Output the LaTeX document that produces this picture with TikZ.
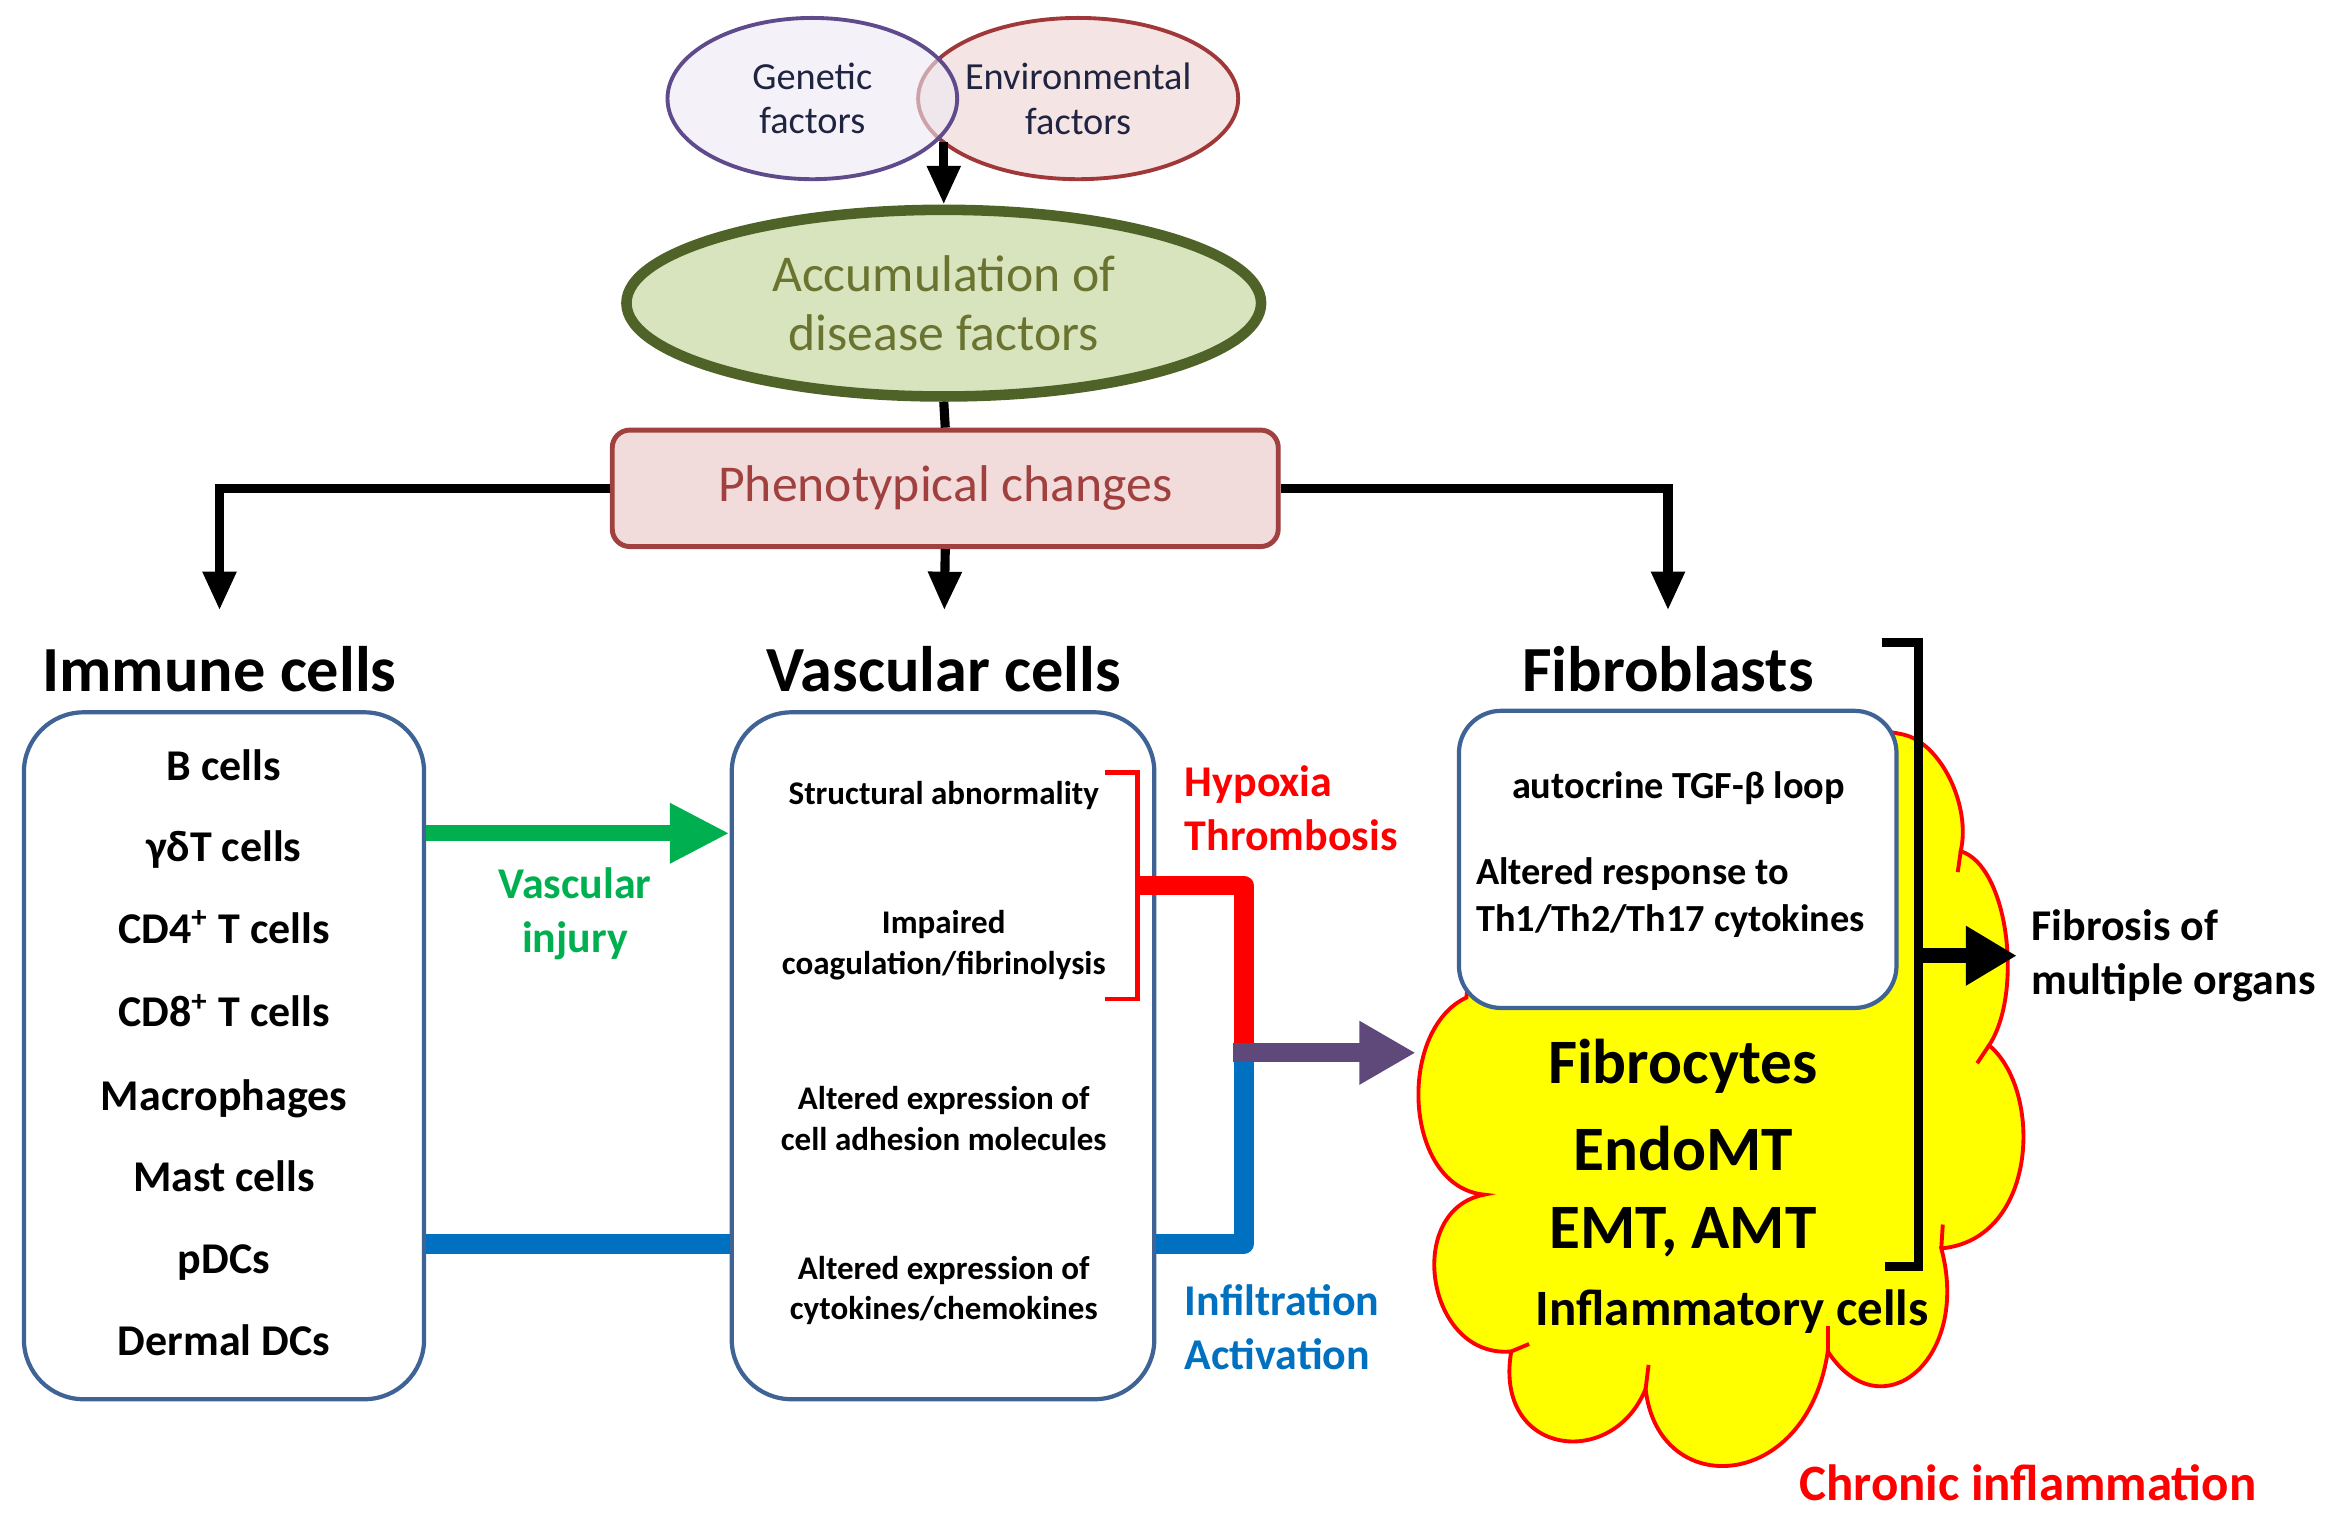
\documentclass[tikz,border=0pt]{standalone}
\usepackage{fontspec}
\setmainfont{Carlito}
\usepackage{tikz}
\usepackage{xcolor}
\usetikzlibrary{shapes.geometric,arrows.meta}

\newdimen\dpx
\dpx=0.1493mm

\definecolor{genline}{HTML}{5F4B8B}
\definecolor{genfill}{HTML}{EDEAF4}
\definecolor{envline}{HTML}{A0383A}
\definecolor{envfill}{HTML}{F5E4E4}
\definecolor{accline}{HTML}{4F6228}
\definecolor{accfill}{HTML}{D7E4BD}
\definecolor{acctext}{HTML}{6A7430}
\definecolor{phline}{HTML}{A0413F}
\definecolor{phfill}{HTML}{F2DCDB}
\definecolor{boxblue}{HTML}{3F6395}
\definecolor{injgreen}{HTML}{00B050}
\definecolor{infblue}{HTML}{0070C0}
\definecolor{hypred}{HTML}{FF0000}
\definecolor{purarrow}{HTML}{5F497A}
\definecolor{cloudfill}{HTML}{FFFF00}
\definecolor{darktext}{HTML}{1F2440}

\begin{document}
\begin{tikzpicture}[x=0.1493mm, y=-0.1493mm,
    every node/.style={inner sep=0pt},
    factor/.style={ellipse, line width=1.1pt, minimum height=108\dpx, align=center,
        text=darktext, font=\fontsize{10.9}{12.7}\selectfont},
    head/.style={font=\fontsize{18.3}{21}\selectfont\bfseries},
    cellbox/.style={draw=boxblue, line width=1.2pt, fill=white, rounded corners=17pt},
    item/.style={font=\fontsize{12.5}{15}\selectfont\bfseries, text height=9pt, text depth=2.5pt},
    vitem/.style={font=\fontsize{9.4}{11.5}\selectfont\bfseries, align=center},
    side/.style={font=\fontsize{12.5}{15.3}\selectfont\bfseries, align=left, anchor=west},
    fibtext/.style={font=\fontsize{10.9}{13.6}\selectfont\bfseries},
    big/.style={font=\fontsize{18}{20}\selectfont\bfseries},
    conn/.style={line width=2.6pt, -{Triangle[width=9pt,length=11pt]}},
    thickline/.style={line width=5.5pt, line join=round},
    cloudline/.style={draw=hypred, line width=1.1pt}
  ]
  \useasboundingbox (0,0) rectangle (1565,1017);

  % causes
  \node[factor, draw=envline, fill=envfill, minimum width=204\dpx] (env) at (722,66) {Environmental\\factors};
  \node[factor, draw=genline, fill=genfill, fill opacity=0.6, text opacity=1, minimum width=194\dpx] (gen) at (544,66) {Genetic\\factors};
  \coordinate (gx) at (632,95);

  \node[ellipse, draw=accline, fill=accfill, line width=3pt, minimum width=425\dpx, minimum height=125\dpx,
        align=center, text=acctext, font=\fontsize{14.7}{17}\selectfont] (acc) at (632,203) {Accumulation of\\disease factors};

  \node[draw=phline, fill=phfill, line width=1.4pt, rounded corners=5pt, minimum width=446\dpx, minimum height=78\dpx,
        text=phline, font=\fontsize{14.7}{17}\selectfont] (pheno) at (633,327) {Phenotypical changes};

  \draw[conn] (gx) -- (acc.north);
  \draw[line width=2.6pt] (acc.south) -- (pheno.north);

  % headers
  \node[head] (immh) at (147,448) {Immune cells};
  \node[head] (vash) at (632,448) {Vascular cells};
  \node[head] (fibh) at (1117,448) {Fibroblasts};

  \draw[conn, shorten >=10pt] (pheno.west) -| (immh.north);
  \draw[conn, shorten >=10pt] (pheno.south) -- (vash.north);
  \draw[conn, shorten >=10pt] (pheno.east) -| (fibh.north);

  % immune cells
  \node[cellbox, minimum width=268\dpx, minimum height=460\dpx] (immbox) at (150,707) {};
  \node[item] (i1) at (150,515) {B cells};
  \node[item] (i2) at (150,569) {γδT cells};
  \node[item] (i3) at (150,624) {CD4\textsuperscript{+} T cells};
  \node[item] (i4) at (150,680) {CD8\textsuperscript{+} T cells};
  \node[item] (i5) at (150,736) {Macrophages};
  \node[item] (i6) at (150,790) {Mast cells};
  \node[item] (i7) at (150,845) {pDCs};
  \node[item] (i8) at (150,900) {Dermal DCs};

  % vascular cells
  \node[cellbox, minimum width=283\dpx, minimum height=460\dpx] (vasbox) at (631.5,707) {};
  \node[vitem] (v1) at (632,533) {Structural abnormality};
  \node[vitem] (v2) at (632,633) {Impaired\\coagulation/fibrinolysis};
  \node[vitem] (v3) at (632,749) {Altered expression of\\cell adhesion molecules};
  \node[vitem] (v4) at (632,864) {Altered expression of\\cytokines/chemokines};

  % links between the groups
  \draw[line width=4.6pt, injgreen, -{Triangle[width=16pt,length=17pt]}] (immbox.east |- 0,558) -- (vasbox.west |- 0,558);
  \node[side, anchor=center, align=center, text=injgreen] (vinj) at (385,612) {Vascular\\injury};

  \draw[hypred, line width=1.4pt] (740,517) -- (762,517) -- (762,669) -- (740,669);
  \coordinate (rb) at (762,593);
  \coordinate (jn) at (833,705);
  \coordinate (cl) at (948,705);
  \draw[thickline, hypred] (rb) -| (jn);
  \draw[thickline, infblue] (immbox.east |- 0,833) -- (vasbox.west |- 0,833);
  \draw[thickline, infblue] (vasbox.east |- 0,833) -| (jn);
  \draw[line width=5.4pt, purarrow, shorten <=-3pt, -{Triangle[width=17pt,length=16pt]}] (jn) -- (cl);

  \node[side, text=hypred] (hyp) at (793,541) {Hypoxia\\Thrombosis};
  \node[side, text=infblue] (inf) at (793,889) {Infiltration\\Activation};

  % chronic inflammation
  \draw[cloudline, fill=cloudfill] (982,668)
    .. controls (990,560) and (1180,470) .. (1275,492)
    .. controls (1300,498) and (1320,540) .. (1313,570)
    .. controls (1345,580) and (1355,665) .. (1332,700)
    .. controls (1368,730) and (1365,830) .. (1300,836)
    .. controls (1320,910) and (1260,960) .. (1224,905)
    .. controls (1210,1000) and (1110,1005) .. (1102,930)
    .. controls (1080,985) and (1000,975) .. (1012,905)
    .. controls (955,910) and (940,810) .. (994,800)
    .. controls (940,795) and (935,690) .. (982,668)
    -- cycle;
  \draw[cloudline] (1313,570) -- (1311,584);
  \draw[cloudline] (1332,700) -- (1324,712);
  \draw[cloudline] (1300,836) -- (1301,820);
  \draw[cloudline] (1224,905) -- (1224,888);
  \draw[cloudline] (1102,930) -- (1104,914);
  \draw[cloudline] (1012,905) -- (1024,900);

  % fibroblasts
  \node[cellbox, rounded corners=12pt, minimum width=293\dpx, minimum height=199\dpx] (fibbox) at (1123.5,575.5) {};
  \node[fibtext] (f1) at (1124,528) {autocrine TGF-β loop};
  \node[fibtext, align=left, anchor=west] (f2) at (988,601) {Altered response to\\Th1/Th2/Th17 cytokines};

  \node[big] (c1) at (1127,714) {Fibrocytes};
  \node[big] (c2) at (1127,769) {EndoMT};
  \node[big] (c3) at (1127,825) {EMT, AMT};
  \node[font=\fontsize{14.5}{17}\selectfont\bfseries] (c4) at (1160,878) {Inflammatory cells};
  \node[font=\fontsize{14.5}{17}\selectfont\bfseries, text=hypred] (chr) at (1358,993) {Chronic inflammation};

  % outcome
  \draw[line width=2.6pt] (1260,430) -- (1285,430) -- (1285,848) -- (1262,848);
  \coordinate (bm) at (1285,640);
  \node[side] (fib) at (1360,640) {Fibrosis of\\multiple organs};
  \draw[line width=4.2pt, shorten >=4pt, -{Triangle[width=16pt,length=14.5pt]}] (bm) -- (fib.west);
\end{tikzpicture}
\end{document}
